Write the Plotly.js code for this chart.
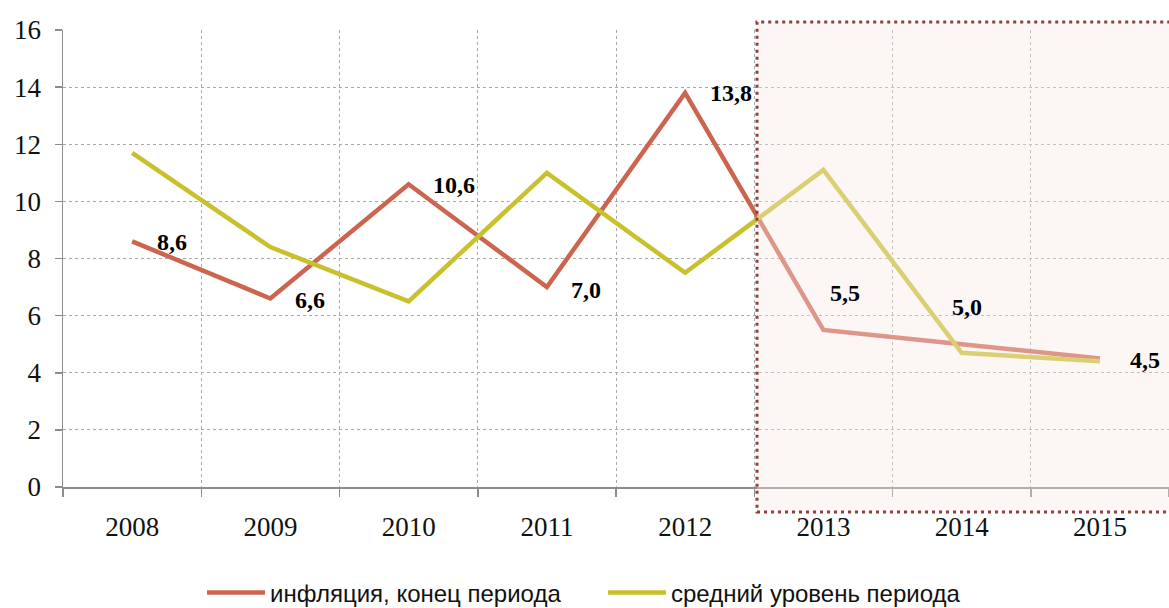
<!DOCTYPE html>
<html>
<head>
<meta charset="utf-8">
<script src="https://cdn.plot.ly/plotly-3.0.1.min.js"></script>
<style>html,body{margin:0;padding:0;background:#fff;}#chart{width:1169px;height:608px;}</style>
</head>
<body>
<div id="chart"></div>
<script>
// ---- data ----
const years = ['2008','2009','2010','2011','2012','2013','2014','2015'];
const inflationEnd = [8.6, 6.6, 10.6, 7.0, 13.8, 5.5, 5.0, 4.5];
const inflationAvg = [11.7, 8.4, 6.5, 11.0, 7.5, 11.1, 4.7, 4.4];
const endLabels = ['8,6','6,6','10,6','7,0','13,8','5,5','5,0','4,5'];
const seriesNames = ['инфляция, конец периода', 'средний уровень периода'];
const yTicks = [0, 2, 4, 6, 8, 10, 12, 14, 16];

// ---- styles ----
const redColor = '#cd6450';
const yellowColor = '#c8c12c';
const labelShiftX = [23, 23, 22, 22, 23, 5, -12, 28];
const labelShiftY = [-1, -2, -1, -3, 0, 37, 37, -2];

const traces = [
  {x: years, y: inflationEnd, type: 'scatter', mode: 'lines', name: seriesNames[0],
   line: {color: redColor, width: 4.5}, hoverinfo: 'skip'},
  {x: years, y: inflationAvg, type: 'scatter', mode: 'lines', name: seriesNames[1],
   line: {color: yellowColor, width: 4.5}, hoverinfo: 'skip'}
];

const annotations = years.map((yr, i) => ({
  x: i, y: inflationEnd[i], xref: 'x', yref: 'y',
  text: '<b>' + endLabels[i] + '</b>', showarrow: false,
  xanchor: 'left', yanchor: 'middle',
  xshift: labelShiftX[i], yshift: labelShiftY[i],
  font: {family: 'Liberation Serif, Times New Roman, serif', size: 24, color: '#000'}
}));

const layout = {
  width: 1169, height: 608,
  margin: {l: 63, r: 0, t: 30, b: 121, autoexpand: false},
  paper_bgcolor: '#fff', plot_bgcolor: '#fff',
  showlegend: true,
  legend: {
    orientation: 'h', x: 0.1257, xanchor: 'left', y: -0.232, yanchor: 'middle',
    font: {family: 'Liberation Sans, Arial, sans-serif', size: 24, color: '#111'},
    entrywidth: 328, itemwidth: 58
  },
  xaxis: {
    type: 'category', range: [-0.5, 7.5], tickson: 'boundaries',
    showgrid: true, gridcolor: '#a8a8a8', griddash: 'dot', gridwidth: 1,
    showline: true, linecolor: '#8c8c8c', linewidth: 1.5,
    ticks: 'outside', ticklen: 8, tickcolor: '#8c8c8c', tickwidth: 1.5,
    ticklabelstandoff: 15,
    tickfont: {family: 'Liberation Serif, Times New Roman, serif', size: 27, color: '#111'},
    zeroline: false, fixedrange: true
  },
  yaxis: {
    range: [0, 16], tickvals: yTicks, ticktext: yTicks.map(String),
    showgrid: true, gridcolor: '#a8a8a8', griddash: 'dot', gridwidth: 1,
    showline: true, linecolor: '#8c8c8c', linewidth: 1.5,
    ticks: 'outside', ticklen: 7, tickcolor: '#8c8c8c', tickwidth: 1.5,
    ticklabelstandoff: 8,
    tickfont: {family: 'Liberation Serif, Times New Roman, serif', size: 27, color: '#111'},
    zeroline: false, fixedrange: true
  },
  shapes: [{
    type: 'rect', xref: 'paper', yref: 'paper', layer: 'above',
    x0: 0.6275, x1: 1.02, y0: -0.0547, y1: 1.0175,
    fillcolor: 'rgba(248,232,228,0.38)',
    line: {color: '#8e3f3f', width: 3, dash: '3px,4px'}
  }],
  annotations: annotations
};

Plotly.newPlot('chart', traces, layout, {staticPlot: true, displayModeBar: false});
</script>
</body>
</html>
